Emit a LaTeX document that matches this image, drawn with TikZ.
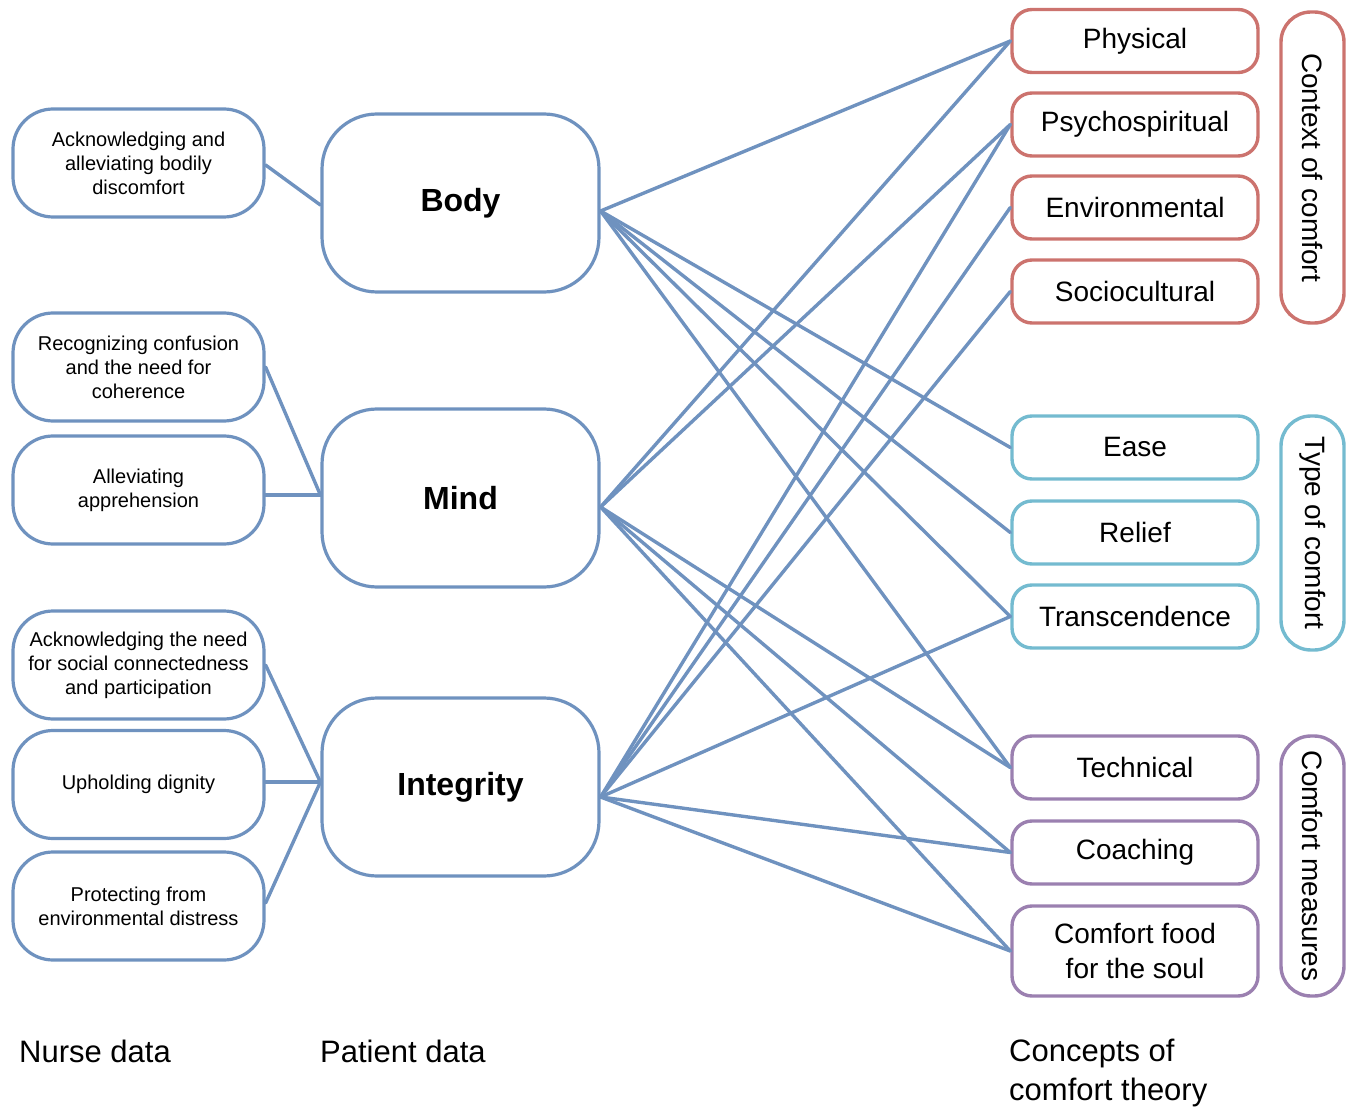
\documentclass[tikz,border=0pt]{standalone}
\usepackage{fontspec}
\setmainfont{Liberation Sans}
\definecolor{linkblue}{RGB}{111,146,191}
\definecolor{ctxred}{RGB}{204,115,110}
\definecolor{typecyan}{RGB}{116,187,208}
\definecolor{measpurple}{RGB}{155,128,176}

\begin{document}
\begin{tikzpicture}[x=1pt, y=-1pt, line cap=round, line join=round,
  link/.style={linkblue, line width=3.4pt},
  nurse/.style={draw=linkblue, line width=3.2pt, rounded corners=40pt, fill=white,
    minimum width=251pt, minimum height=108pt, align=center, inner sep=0pt,
    font=\fontsize{20}{24}\selectfont},
  patient/.style={draw=linkblue, line width=3.2pt, rounded corners=55pt, fill=white,
    minimum width=277pt, minimum height=178pt, inner sep=0pt,
    font=\fontsize{32}{38}\selectfont\bfseries},
  concept/.style={line width=3.4pt, rounded corners=20pt, fill=white,
    minimum width=246pt, minimum height=63pt, align=center, inner sep=0pt,
    font=\fontsize{28}{35}\selectfont},
  grouplabel/.style={line width=3.4pt, rounded corners=30pt, minimum height=63pt,
    rotate=-90, inner sep=0pt, font=\fontsize{28}{34}\selectfont},
  footlabel/.style={inner sep=0pt, font=\fontsize{31}{39}\selectfont}]
  \useasboundingbox (0,0) rectangle (1350,1107);

  % Nurse data
  \node[nurse] (bodily) at (138.5,163) {Acknowledging and\\alleviating bodily\\discomfort};
  \node[nurse] (confusion) at (138.5,367) {Recognizing confusion\\and the need for\\coherence};
  \node[nurse] (apprehension) at (138.5,490) {Alleviating\\apprehension};
  \node[nurse] (social) at (138.5,665) {Acknowledging the need\\for social connectedness\\and participation};
  \node[nurse] (dignity) at (138.5,784.5) {Upholding dignity};
  \node[nurse] (distress) at (138.5,906) {Protecting from\\environmental distress};

  % Patient data
  \node[patient] (body) at (460.5,203) {Body};
  \node[patient] (mind) at (460.5,498) {Mind};
  \node[patient] (integrity) at (460.5,787) {Integrity};

  % attach points
  \coordinate (bodyL) at ([yshift=-2pt]body.west);
  \coordinate (mindL) at ([yshift=3pt]mind.west);
  \coordinate (integrityL) at ([yshift=5pt]integrity.west);
  \coordinate (bodyR) at ([yshift=-8pt]body.east);
  \coordinate (mindR) at ([yshift=-9pt]mind.east);
  \coordinate (integrityR) at ([yshift=-10pt]integrity.east);

  % Concepts of comfort theory
  \node[concept, draw=ctxred] (physical) at (1135,41) {Physical};
  \node[concept, draw=ctxred] (psycho) at (1135,124.5) {Psychospiritual};
  \node[concept, draw=ctxred] (environ) at (1135,207.5) {Environmental};
  \node[concept, draw=ctxred] (socio) at (1135,291.5) {Sociocultural};
  \node[concept, draw=typecyan] (ease) at (1135,447.5) {Ease};
  \node[concept, draw=typecyan] (relief) at (1135,532.5) {Relief};
  \node[concept, draw=typecyan] (transc) at (1135,616.5) {Transcendence};
  \node[concept, draw=measpurple] (technical) at (1135,767.5) {Technical};
  \node[concept, draw=measpurple] (coaching) at (1135,852.5) {Coaching};
  \node[concept, draw=measpurple, minimum height=90pt] (food) at (1135,951) {Comfort food\\for the soul};

  % Groups
  \node[grouplabel, draw=ctxred, minimum width=311pt] (context) at (1312.5,167.5) {Context of comfort};
  \node[grouplabel, draw=typecyan, minimum width=234pt] (type) at (1312.5,533) {Type of comfort};
  \node[grouplabel, draw=measpurple, minimum width=260pt] (measures) at (1312.5,866) {Comfort measures};

  % Nurse data to patient data
  \draw[link] ([yshift=-2pt]bodily.east) -- (bodyL);
  \draw[link] (confusion.east) -- (mindL);
  \draw[link] ([yshift=-5pt]apprehension.east) -- (mindL);
  \draw[link] (social.east) -- (integrityL);
  \draw[link] ([yshift=2.5pt]dignity.east) -- (integrityL);
  \draw[link] ([yshift=3pt]distress.east) -- (integrityL);

  % Patient data to concepts
  \draw[link] (bodyR) -- (physical.west);
  \draw[link] (bodyR) -- (ease.west);
  \draw[link] (bodyR) -- (relief.west);
  \draw[link] (bodyR) -- (transc.west);
  \draw[link] (bodyR) -- (technical.west);
  \draw[link] (mindR) -- (physical.west);
  \draw[link] (mindR) -- (psycho.west);
  \draw[link] (mindR) -- (technical.west);
  \draw[link] (mindR) -- (coaching.west);
  \draw[link] (mindR) -- (food.west);
  \draw[link] (integrityR) -- (psycho.west);
  \draw[link] (integrityR) -- (environ.west);
  \draw[link] (integrityR) -- (socio.west);
  \draw[link] (integrityR) -- (transc.west);
  \draw[link] (integrityR) -- (coaching.west);
  \draw[link] (integrityR) -- (food.west);

  % Column labels
  \node[footlabel, anchor=base west] (nurselbl) at (19,1062) {Nurse data};
  \node[footlabel, anchor=base west] (patientlbl) at (320,1062) {Patient data};
  \node[footlabel, anchor=north west, align=left] (conceptlbl) at (1009,1039) {Concepts of\\comfort theory};
\end{tikzpicture}
\end{document}
